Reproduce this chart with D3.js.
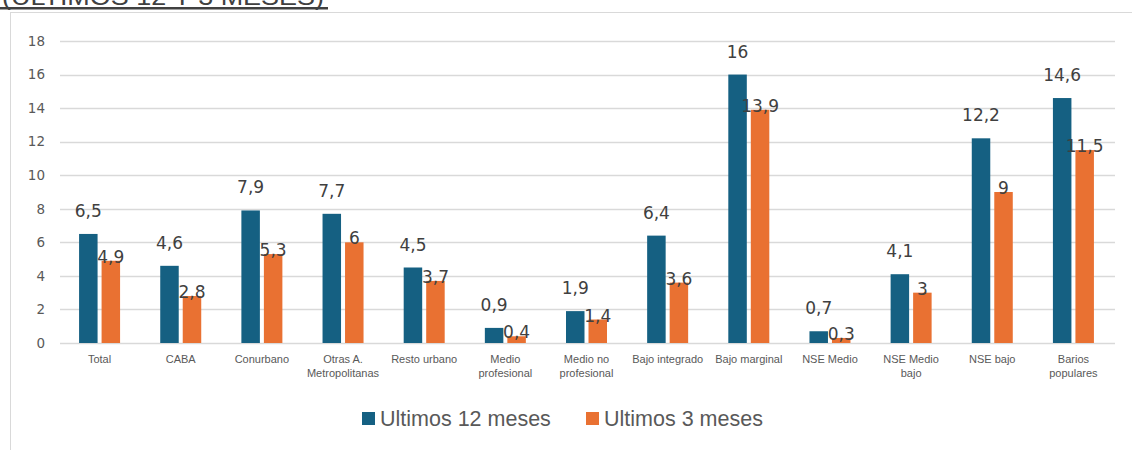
<!DOCTYPE html>
<html><head><meta charset="utf-8">
<script src="https://cdn.jsdelivr.net/npm/d3@7"></script>
<style>body{margin:0;background:#fff;}svg{display:block;font-family:"Liberation Sans",Arial,sans-serif;}</style>
</head><body>
<svg id="c" width="1132" height="450"></svg>
<script>
const categories = ["Total","CABA","Conurbano","Otras A.\nMetropolitanas","Resto urbano","Medio\nprofesional","Medio no\nprofesional","Bajo integrado","Bajo marginal","NSE Medio","NSE Medio\nbajo","NSE bajo","Barios\npopulares"];
const seriesNames = ["Ultimos 12 meses","Ultimos 3 meses"];
const last12 = [6.5,4.6,7.9,7.7,4.5,0.9,1.9,6.4,16,0.7,4.1,12.2,14.6];
const last3 = [4.9,2.8,5.3,6,3.7,0.4,1.4,3.6,13.9,0.3,3,9,11.5];
const yTicks = [0,2,4,6,8,10,12,14,16,18];
const colors = ["#156082","#E97132"];
const title = "(ULTIMOS 12 Y 3 MESES)";

const svg = d3.select("#c");
// frame
svg.append("line").attr("x1",10.5).attr("x2",10.5).attr("y1",12).attr("y2",450).attr("stroke","#d9d9d9");
svg.append("line").attr("x1",10).attr("x2",1132).attr("y1",12.5).attr("y2",12.5).attr("stroke","#d9d9d9");
// title (cut off at top, as in the reference)
svg.append("text").attr("x",2).attr("y",5).attr("font-size",24).attr("fill","#404040")
  .attr("textLength",322).attr("lengthAdjust","spacingAndGlyphs").text(title);
svg.append("rect").attr("x",0).attr("y",7).attr("width",328).attr("height",2.5).attr("fill","#404040");

const x0 = d3.scaleBand().domain(categories.map((d,i)=>i)).range([59,1114]).paddingInner(0).paddingOuter(0);
const y = d3.scaleLinear().domain([0,18]).range([343,41]);

// grid
svg.append("g").selectAll("line").data(yTicks).join("line")
  .attr("x1",60).attr("x2",1115).attr("y1",d=>Math.round(y(d))+0.5).attr("y2",d=>Math.round(y(d))+0.5)
  .attr("stroke","#d9d9d9").attr("stroke-width",1.3);
const yAxis = d3.axisLeft(y).tickValues(yTicks).tickSize(0).tickPadding(0);
const ya = svg.append("g").attr("transform","translate(45,0)").call(yAxis);
ya.select(".domain").remove();
ya.selectAll("text").attr("font-size",13.5).attr("fill","#595959").attr("font-family","DejaVu Sans, sans-serif");

const data = categories.map((c,i)=>({i, vals:[last12[i], last3[i]]}));
const bw = x0.bandwidth();
const fmt = v => String(v).replace(".",",");

data.forEach(d=>{
  const c = x0(d.i) + bw/2;
  const x1 = d3.scaleBand().domain([0,1]).range([c-20.5,c+20.5]).paddingInner(0.178);
  d.vals.forEach((v,k)=>{
    svg.append("rect").attr("x",x1(k)).attr("y",y(v)).attr("width",x1.bandwidth()).attr("height",y(0)-y(v)).attr("fill",colors[k]);
  });
  d.vals.forEach((v,k)=>{
    svg.append("text").attr("x",x1(k)+x1.bandwidth()/2).attr("y",y(v) + (k===0?-17:2))
      .attr("text-anchor","middle").attr("font-size",17).attr("font-family","DejaVu Sans, sans-serif")
      .attr("fill","#404040").text(fmt(v));
  });
  const lines = categories[d.i].split("\n");
  const tx = svg.append("text").attr("text-anchor","middle").attr("font-size",11).attr("fill","#595959");
  lines.forEach((l,j)=>tx.append("tspan").attr("x",c).attr("y",363+j*14).text(l));
});

// legend
const leg = [{x:362, tx:380},{x:586, tx:604}];
seriesNames.forEach((s,k)=>{
  svg.append("rect").attr("x",leg[k].x).attr("y",412).attr("width",13).attr("height",13).attr("fill",colors[k]);
  svg.append("text").attr("x",leg[k].tx).attr("y",426).attr("font-size",21.5).attr("fill","#595959").text(s);
});
</script>
</body></html>
